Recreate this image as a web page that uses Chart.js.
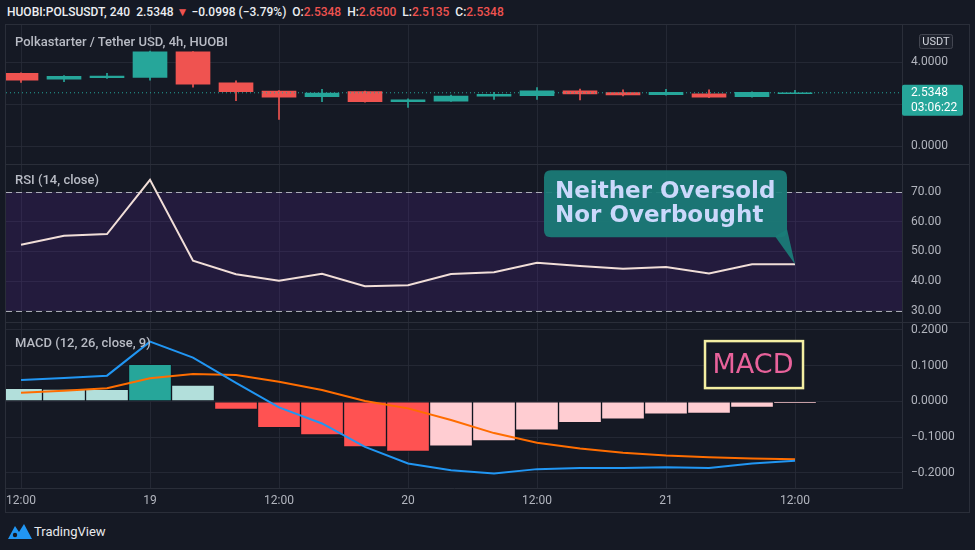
<!DOCTYPE html>
<html>
<head>
<meta charset="utf-8">
<script src="https://cdn.jsdelivr.net/npm/chart.js@4.4.1/dist/chart.umd.min.js"></script>
<style>
  html,body{margin:0;padding:0;background:#151924;width:975px;height:550px;overflow:hidden;}
  body{position:relative;font-family:Roboto,"Open Sans",sans-serif;}
  .abs{position:absolute;}
  #frame{left:5px;top:24px;width:963px;height:487px;border:1px solid #2a2e39;}
  canvas{position:absolute;left:6px;}
  .sep{position:absolute;left:6px;width:963px;height:1px;background:#2a2e39;}
  #hdr{left:7px;top:4px;font-size:12px;font-weight:500;color:#eceef2;white-space:nowrap;line-height:16px;}
  #hdr .r{color:#ef5350;}
  .ptitle{font-size:13px;font-weight:500;color:#b8bbc4;white-space:nowrap;line-height:16px;}
  #tv{left:8px;top:522px;display:flex;align-items:center;color:#e8e9ec;font-size:13px;}
</style>
</head>
<body>
<div id="frame" class="abs"></div>
<canvas id="cPrice" width="963" height="139" style="top:25px"></canvas>
<canvas id="cRsi" width="963" height="158" style="top:164px"></canvas>
<canvas id="cMacd" width="963" height="190" style="top:322px"></canvas>
<div class="sep" style="top:164px"></div>
<div class="sep" style="top:322px"></div>

<div id="hdr" class="abs">HUOBI:POLSUSDT, 240&nbsp; 2.5348 <span class="r">▼</span> −0.0998 (−3.79%)&nbsp; O:<span class="r">2.5348</span>&nbsp; H:<span class="r">2.6500</span>&nbsp; L:<span class="r">2.5135</span>&nbsp; C:<span class="r">2.5348</span></div>
<div class="abs ptitle" style="left:15px;top:34px">Polkastarter / Tether USD, 4h, HUOBI</div>
<div class="abs ptitle" style="left:15px;top:172px">RSI (14, close)</div>
<div class="abs ptitle" style="left:15px;top:335px">MACD (12, 26, close, 9)</div>
<div id="tv" class="abs">
  <svg width="24" height="18" viewBox="0 0 24 18"><path d="M0 17 L7 4 L11 10 L16 2 L24 17 Z" fill="#2196f3"/><circle cx="7" cy="13" r="2.2" fill="#151924"/></svg>
  <span style="margin-left:2px">TradingView</span>
</div>

<script>
// ---------------- DATA ----------------
const xTickIndex  = [0, 3, 6, 9, 12, 15, 18];
const xTickLabels = ['12:00', '19', '12:00', '20', '12:00', '21', '12:00'];

const candleOpen  = [3.46, 3.18, 3.25, 3.27, 4.49, 3.01, 2.62, 2.35, 2.59, 2.11, 2.14, 2.37, 2.40, 2.63, 2.54, 2.44, 2.49, 2.35, 2.5348];
const candleClose = [3.14, 3.32, 3.33, 4.49, 2.94, 2.59, 2.33, 2.52, 2.11, 2.20, 2.38, 2.46, 2.63, 2.48, 2.43, 2.56, 2.33, 2.56, 2.5348];
const candleHigh  = [3.48, 3.35, 3.46, 4.52, 4.50, 3.10, 2.64, 2.70, 2.62, 2.25, 2.42, 2.56, 2.78, 2.71, 2.67, 2.70, 2.67, 2.58, 2.65];
const candleLow   = [3.03, 3.06, 3.22, 3.14, 2.80, 2.16, 1.27, 2.11, 2.09, 1.84, 2.12, 2.22, 2.22, 2.19, 2.39, 2.42, 2.30, 2.33, 2.5135];
const lastPrice   = 2.5348;
const countdown   = '03:06:22';
const priceTicks  = [0, 2, 4];
const priceTickLabels = ['0.0000', '', '4.0000'];

const rsiValues = [52.3, 55.3, 55.9, 74.2, 46.9, 42.3, 40.1, 42.5, 38.3, 38.6, 42.4, 43.0, 46.2, 45.1, 44.2, 44.8, 42.6, 45.7, 45.7];
const rsiTicks  = [30, 40, 50, 60, 70];
const rsiBands  = [30, 70];
const rsiNote   = ['Neither Oversold', 'Nor Overbought'];

const macdValues   = [0.0598, 0.0654, 0.0720, 0.1674, 0.1225, 0.0520, -0.0169, -0.0620, -0.1275, -0.1740, -0.1930, -0.2020, -0.1900, -0.1870, -0.1870, -0.1850, -0.1870, -0.1740, -0.1666];
const signalValues = [0.0240, 0.0300, 0.0365, 0.0646, 0.0767, 0.0739, 0.0550, 0.0317, 0.0010, -0.0197, -0.0525, -0.0890, -0.1160, -0.1320, -0.1440, -0.1520, -0.1570, -0.1600, -0.1620];
const histValues   = [0.0365, 0.0345, 0.0337, 0.1040, 0.0458, -0.0225, -0.0740, -0.0940, -0.1275, -0.1405, -0.1260, -0.1107, -0.0806, -0.0600, -0.0497, -0.0357, -0.0337, -0.0169, -0.0056];
const macdTicks    = [-0.2, -0.1, 0, 0.1, 0.2];
const macdNote     = 'MACD';

// ---------------- STYLE ----------------
const BG = '#151924', GRID = 'rgba(42,46,57,0.75)', BORDER = '#2a2e39', TXT = '#b2b5be';
const UP = '#26a69a', DOWN = '#ef5350';
const X_MIN = -0.349, X_MAX = 20.488;
const AXIS_W = 67;

Chart.defaults.font.family = 'Roboto';
Chart.defaults.animation = false;

function xScale(showLabels) {
  return {
    type: 'linear', min: X_MIN, max: X_MAX, offset: false, display: true,
    afterBuildTicks: s => { s.ticks = xTickIndex.map(v => ({ value: v })); },
    ticks: {
      display: showLabels, autoSkip: false, maxRotation: 0, padding: 6,
      color: TXT, font: { size: 12 },
      callback: v => xTickLabels[xTickIndex.indexOf(v)] ?? ''
    },
    grid: { color: GRID, drawTicks: false, offset: false },
    border: { display: showLabels, color: BORDER },
    afterFit: s => { s.paddingLeft = 0; s.paddingRight = 0; s.height = showLabels ? 24 : 0; }
  };
}
function yScale(min, max, ticks, fmt) {
  return {
    type: 'linear', position: 'right', min, max,
    afterBuildTicks: s => { s.ticks = ticks.map(v => ({ value: v })); },
    ticks: { color: TXT, font: { size: 12 }, padding: 9, autoSkip: false, callback: fmt },
    grid: { color: GRID, drawTicks: false },
    border: { display: true, color: BORDER },
    afterFit: s => { s.width = AXIS_W; s.paddingTop = 0; s.paddingBottom = 0; }
  };
}
const baseOpts = {
  responsive: false, animation: false, events: [],
  layout: { padding: 0 },
  plugins: { legend: { display: false }, tooltip: { enabled: false } }
};
function rr(ctx, x, y, w, h, r) {
  ctx.beginPath();
  ctx.moveTo(x + r, y); ctx.lineTo(x + w - r, y); ctx.quadraticCurveTo(x + w, y, x + w, y + r);
  ctx.lineTo(x + w, y + h - r); ctx.quadraticCurveTo(x + w, y + h, x + w - r, y + h);
  ctx.lineTo(x + r, y + h); ctx.quadraticCurveTo(x, y + h, x, y + h - r);
  ctx.lineTo(x, y + r); ctx.quadraticCurveTo(x, y, x + r, y); ctx.closePath();
}
const idx = candleOpen.map((_, i) => i);
const fmtSigned = v => (v < 0 ? '−' : '') + Math.abs(v).toFixed(4);

// ---------------- PRICE PANE ----------------
const candleColor = idx.map(i => candleClose[i] >= candleOpen[i] ? UP : DOWN);
const priceTag = {
  id: 'priceTag',
  afterDraw(c) {
    const ctx = c.ctx, a = c.chartArea, yp = c.scales.y.getPixelForValue(lastPrice);
    ctx.save();
    ctx.fillStyle = UP;
    rr(ctx, a.right, yp - 8, 61, 31, 2); ctx.fill();
    ctx.fillStyle = '#ffffff'; ctx.font = '12px Roboto'; ctx.textBaseline = 'middle'; ctx.textAlign = 'left';
    ctx.fillText(lastPrice.toFixed(4), a.right + 9, yp + 0.5);
    ctx.fillText(countdown, a.right + 9, yp + 15);
    ctx.fillStyle = '#1e222d'; ctx.strokeStyle = '#434651'; ctx.lineWidth = 1;
    rr(ctx, a.right + 17.5, a.top + 9.5, 33, 14, 2); ctx.fill(); ctx.stroke();
    ctx.fillStyle = '#d1d4dc'; ctx.font = '11px Roboto'; ctx.textAlign = 'center';
    ctx.fillText('USDT', a.right + 34, a.top + 17);
    ctx.restore();
  }
};
new Chart(document.getElementById('cPrice'), {
  type: 'bar',
  data: {
    datasets: [
      { label: 'wick', data: idx.map(i => ({ x: i, y: [candleLow[i], candleHigh[i]] })),
        backgroundColor: candleColor, barThickness: 1, grouped: false, order: 2 },
      { label: 'body', data: idx.map(i => ({ x: i, y: [candleOpen[i], candleClose[i]] })),
        backgroundColor: candleColor, barThickness: 34, minBarLength: 1, grouped: false, order: 1 },
      { type: 'line', label: 'last', data: [{ x: X_MIN, y: lastPrice }, { x: X_MAX, y: lastPrice }],
        borderColor: UP, borderWidth: 1, borderDash: [1, 3], pointRadius: 0, order: 0 }
    ]
  },
  options: Object.assign({}, baseOpts, {
    scales: { x: xScale(false), y: yScale(-0.857, 5.762, priceTicks, v => priceTickLabels[priceTicks.indexOf(v)] ?? '') }
  }),
  plugins: [priceTag]
});

// ---------------- RSI PANE ----------------
const rsiDeco = {
  id: 'rsiDeco',
  beforeDatasetsDraw(c) {
    const ctx = c.ctx, a = c.chartArea, y = c.scales.y;
    const yTop = y.getPixelForValue(rsiBands[1]), yBot = y.getPixelForValue(rsiBands[0]);
    ctx.save();
    ctx.fillStyle = 'rgba(100,40,180,0.18)';
    ctx.fillRect(a.left, yTop, a.right - a.left, yBot - yTop);
    ctx.strokeStyle = 'rgba(205,207,215,0.8)'; ctx.lineWidth = 1; ctx.setLineDash([6, 4]);
    rsiBands.forEach(b => {
      const yy = Math.round(y.getPixelForValue(b)) + 0.5;
      ctx.beginPath(); ctx.moveTo(a.left, yy); ctx.lineTo(a.right, yy); ctx.stroke();
    });
    ctx.restore();
  },
  afterDatasetsDraw(c) {
    const ctx = c.ctx, x = c.scales.x, y = c.scales.y;
    const last = rsiValues.length - 1;
    const tx = x.getPixelForValue(last), ty = y.getPixelForValue(rsiValues[last]);
    const L = tx - 251, R = tx - 8, T = ty - 94, B = ty - 27;
    ctx.save();
    ctx.fillStyle = 'rgba(27,125,121,0.93)';
    rr(ctx, L, T, R - L, B - T, 7); ctx.fill();
    ctx.beginPath(); ctx.moveTo(tx - 20, B - 1); ctx.lineTo(R, B - 8); ctx.lineTo(tx, ty); ctx.closePath(); ctx.fill();
    ctx.fillStyle = '#cbd8fb'; ctx.font = 'bold 23px "DejaVu Sans"'; ctx.textBaseline = 'alphabetic'; ctx.textAlign = 'left';
    ctx.fillText(rsiNote[0], tx - 240, ty - 66);
    ctx.fillText(rsiNote[1], tx - 240, ty - 42);
    ctx.restore();
  }
};
new Chart(document.getElementById('cRsi'), {
  type: 'line',
  data: {
    datasets: [
      { label: 'RSI', data: idx.map(i => ({ x: i, y: rsiValues[i] })),
        borderColor: '#f1ded8', borderWidth: 2, pointRadius: 0, tension: 0 }
    ]
  },
  options: Object.assign({}, baseOpts, {
    scales: { x: xScale(false), y: yScale(26.18, 79.56, rsiTicks, v => v.toFixed(2)) }
  }),
  plugins: [rsiDeco]
});

// ---------------- MACD PANE ----------------
const histColor = histValues.map((v, i) => {
  const prev = i === 0 ? v + 1e-9 : histValues[i - 1];
  if (v >= 0) return v > prev ? '#26a69a' : '#b2dfdb';
  return v < prev ? '#ff5252' : '#ffcdd2';
});
const macdDeco = {
  id: 'macdDeco',
  afterDatasetsDraw(c) {
    const ctx = c.ctx, x = c.scales.x, y = c.scales.y;
    const cx = x.getPixelForValue(17) + 2, cy = y.getPixelForValue(0.103);
    ctx.save();
    ctx.fillStyle = BG; ctx.strokeStyle = '#f3eea2'; ctx.lineWidth = 2.5;
    ctx.fillRect(cx - 49, cy - 23.5, 98, 47);
    ctx.strokeRect(cx - 49, cy - 23.5, 98, 47);
    ctx.fillStyle = '#e8629b'; ctx.font = '27px "DejaVu Sans"'; ctx.textAlign = 'center'; ctx.textBaseline = 'middle';
    ctx.fillText(macdNote, cx - 1, cy + 1);
    ctx.restore();
  }
};
new Chart(document.getElementById('cMacd'), {
  type: 'bar',
  data: {
    datasets: [
      { type: 'line', label: 'Signal', data: idx.map(i => ({ x: i, y: signalValues[i] })),
        borderColor: '#ff6d00', borderWidth: 2, pointRadius: 0, tension: 0, order: 1 },
      { type: 'line', label: 'MACD', data: idx.map(i => ({ x: i, y: macdValues[i] })),
        borderColor: '#2196f3', borderWidth: 2, pointRadius: 0, tension: 0, order: 0 },
      { label: 'Histogram', data: idx.map(i => ({ x: i, y: histValues[i] })),
        backgroundColor: histColor, borderColor: '#131722', borderWidth: 1, borderSkipped: false,
        barThickness: 43, grouped: false, order: 2 }
    ]
  },
  options: Object.assign({}, baseOpts, {
    scales: { x: xScale(true), y: yScale(-0.2429, 0.2224, macdTicks, fmtSigned) }
  }),
  plugins: [macdDeco]
});
</script>
</body>
</html>
